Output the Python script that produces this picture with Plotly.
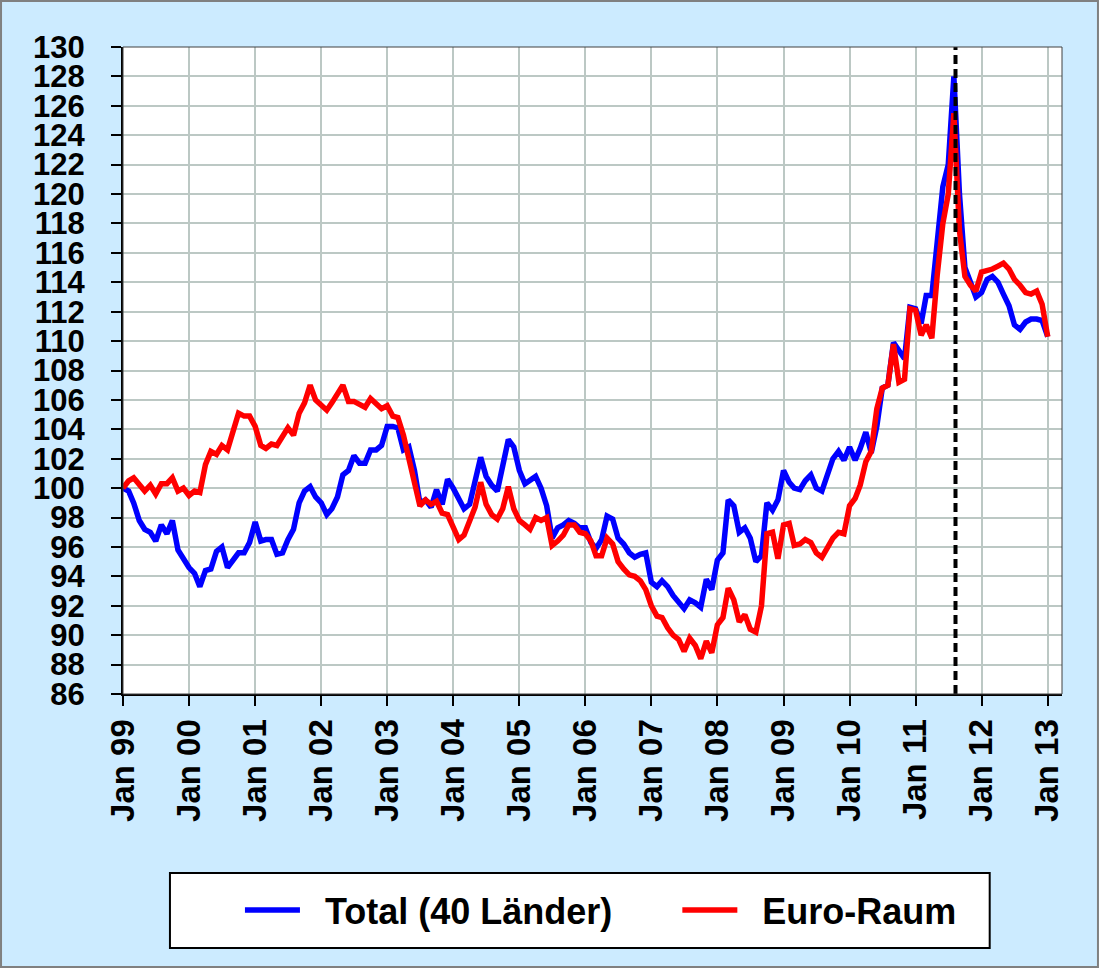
import pandas as pd
import plotly.graph_objects as go

# ---------------- data ----------------
start_month = "1999-01-01"
n_months = 169  # Jan 1999 .. Jan 2013

total_40 = [
    100.0, 99.8, 99.0, 97.8, 97.2, 97.0, 96.4, 97.5, 96.9, 97.8, 95.8, 95.2,        # 1999
    94.6, 94.2, 93.3, 94.4, 94.5, 95.7, 96.0, 94.6, 95.1, 95.6, 95.6, 96.3,         # 2000
    97.7, 96.4, 96.5, 96.5, 95.5, 95.6, 96.5, 97.2, 99.0, 99.8, 100.1, 99.4,        # 2001
    99.0, 98.2, 98.6, 99.4, 100.9, 101.2, 102.2, 101.7, 101.7, 102.6, 102.6, 102.9, # 2002
    104.2, 104.2, 104.1, 102.6, 102.8, 101.2, 99.0, 99.2, 98.7, 99.9, 98.9, 100.6,  # 2003
    100.0, 99.2, 98.6, 98.9, 100.4, 102.1, 100.8, 100.2, 99.8, 101.5, 103.3, 102.8, # 2004
    101.2, 100.3, 100.5, 100.8, 100.0, 98.8, 96.6, 97.3, 97.5, 97.8, 97.6, 97.3,    # 2005
    97.3, 96.3, 95.9, 96.5, 98.1, 97.9, 96.6, 96.2, 95.6, 95.3, 95.5, 95.6,         # 2006
    93.6, 93.3, 93.7, 93.3, 92.7, 92.3, 91.8, 92.4, 92.2, 91.9, 93.8, 93.1,         # 2007
    95.1, 95.6, 99.2, 98.8, 97.0, 97.3, 96.6, 95.0, 95.4, 99.0, 98.5, 99.2,         # 2008
    101.2, 100.4, 100.0, 99.9, 100.5, 100.9, 100.0, 99.8, 100.8, 102.0, 102.5, 101.9, # 2009
    102.8, 101.9, 102.7, 103.8, 102.4, 104.2, 106.8, 107.0, 109.9, 109.4, 108.8, 112.3, # 2010
    112.2, 111.2, 113.1, 113.1, 116.4, 120.5, 122.0, 128.0, 120.0, 115.0, 114.0, 113.0, # 2011
    113.3, 114.2, 114.4, 114.0, 113.2, 112.4, 111.1, 110.8, 111.3, 111.5, 111.5, 111.4, # 2012
    110.3,                                                                          # 2013
]

euro_raum = [
    100.0, 100.5, 100.7, 100.2, 99.8, 100.2, 99.6, 100.3, 100.3, 100.7, 99.8, 100.0, # 1999
    99.5, 99.8, 99.7, 101.6, 102.5, 102.3, 102.9, 102.6, 104.0, 105.1, 104.9, 104.9, # 2000
    104.2, 102.9, 102.7, 103.0, 102.9, 103.6, 104.1, 103.6, 105.1, 105.8, 107.0, 106.0, # 2001
    105.7, 105.3, 105.8, 106.5, 107.0, 105.9, 105.9, 105.7, 105.5, 106.1, 105.8, 105.4, # 2002
    105.6, 104.9, 104.8, 103.6, 102.0, 100.3, 98.8, 99.2, 98.9, 99.1, 98.3, 98.2,    # 2003
    97.3, 96.5, 96.8, 97.8, 98.7, 100.4, 98.9, 98.2, 97.9, 98.6, 100.1, 98.6,        # 2004
    97.8, 97.5, 97.2, 98.0, 97.8, 98.0, 96.1, 96.4, 96.8, 97.5, 97.5, 97.0,          # 2005
    96.9, 96.4, 95.4, 95.4, 96.6, 96.2, 95.0, 94.5, 94.1, 94.0, 93.7, 93.1,          # 2006
    92.0, 91.3, 91.2, 90.5, 90.0, 89.7, 88.9, 89.8, 89.3, 88.4, 89.6, 88.8,          # 2007
    90.7, 91.2, 93.2, 92.4, 90.9, 91.4, 90.4, 90.2, 92.0, 96.9, 97.0, 95.2,          # 2008
    97.5, 97.6, 96.1, 96.2, 96.5, 96.3, 95.6, 95.3, 96.0, 96.6, 97.0, 96.9,          # 2009
    98.8, 99.3, 100.2, 101.8, 102.5, 105.4, 106.8, 107.0, 109.8, 107.2, 107.4, 112.2, # 2010
    112.1, 110.4, 111.1, 110.2, 114.5, 118.0, 120.0, 125.5, 117.5, 114.4, 113.8, 113.4, # 2011
    114.7, 114.8, 114.9, 115.1, 115.3, 114.9, 114.2, 113.8, 113.3, 113.2, 113.4, 112.5, # 2012
    110.3,                                                                          # 2013
]

series_names = ["Total (40 Länder)", "Euro-Raum"]
tick_dates = [f"{y}-01-01" for y in range(1999, 2014)]
tick_labels = ["Jan 99", "Jan 00", "Jan 01", "Jan 02", "Jan 03", "Jan 04", "Jan 05",
               "Jan 06", "Jan 07", "Jan 08", "Jan 09", "Jan 10", "Jan 11", "Jan 12", "Jan 13"]
marker_date = "2011-08-10"
y_range = [86, 130]
x_range = ["1999-01-01", "2013-03-21"]

months = pd.date_range(start_month, periods=n_months, freq="MS")

# ---------------- figure ----------------
FONT = "Liberation Sans, Arial, sans-serif"
BG = "#CCEBFF"
GRID = "#BCC8C4"
LEAD = "\u00a0\u00a0"          # gap between legend line and its text
TRAIL = "\u00a0" * 6           # gap between the two legend entries

fig = go.Figure()
fig.add_trace(go.Scatter(x=months, y=total_40, mode="lines",
                         name=LEAD + series_names[0] + TRAIL,
                         line=dict(color="#0000FF", width=5.5)))
fig.add_trace(go.Scatter(x=months, y=euro_raum, mode="lines",
                         name=LEAD + series_names[1],
                         line=dict(color="#FF0000", width=5.5)))

fig.update_layout(
    width=1099, height=968,
    margin=dict(l=123, r=37, t=47, b=274),
    paper_bgcolor=BG, plot_bgcolor="white",
    showlegend=True,
    legend=dict(orientation="h", x=0.509, xanchor="center", y=-0.334, yanchor="middle",
                bgcolor="rgba(0,0,0,0)", itemwidth=55,
                font=dict(family=FONT, size=36, color="black", weight="bold")),
    font=dict(family=FONT, color="black"),
)

fig.update_xaxes(
    type="date", range=x_range,
    tickvals=tick_dates, ticktext=tick_labels, tickangle=-90,
    tickfont=dict(family=FONT, size=33, color="black", weight="bold"),
    showgrid=True, gridcolor=GRID, gridwidth=1.5,
    showline=True, linecolor="black", linewidth=2,
    ticks="outside", ticklen=10, tickwidth=2, tickcolor="black",
    zeroline=False,
)
fig.update_yaxes(
    range=y_range, dtick=2, tick0=86,
    tickfont=dict(family=FONT, size=31, color="black", weight="bold"),
    ticklabelstandoff=20,
    showgrid=True, gridcolor=GRID, gridwidth=1.5,
    showline=True, linecolor="black", linewidth=2,
    ticks="outside", ticklen=10, tickwidth=2, tickcolor="black",
    zeroline=False,
)

# dashed vertical marker
fig.add_shape(type="line", xref="x", yref="paper", x0=marker_date, x1=marker_date,
              y0=0, y1=1, line=dict(color="black", width=4, dash="9px,5px"), layer="above")
# plot area frame (top/right)
fig.add_shape(type="rect", xref="paper", yref="paper", x0=0, x1=1, y0=0, y1=1,
              line=dict(color="#404040", width=1), layer="above")
# legend box
fig.add_shape(type="rect", xref="paper", yref="paper", x0=0.050, x1=0.923,
              y0=-0.3926, y1=-0.2767, fillcolor="white",
              line=dict(color="black", width=2), layer="below")
# outer border
fig.add_shape(type="rect", xref="paper", yref="paper", x0=-0.1299, x1=1.0383,
              y0=-0.4219, y1=1.0711, line=dict(color="#808080", width=2), layer="below")

fig.write_html("out.html", config={"displayModeBar": False},
               post_script="document.body.style.margin='0';")
